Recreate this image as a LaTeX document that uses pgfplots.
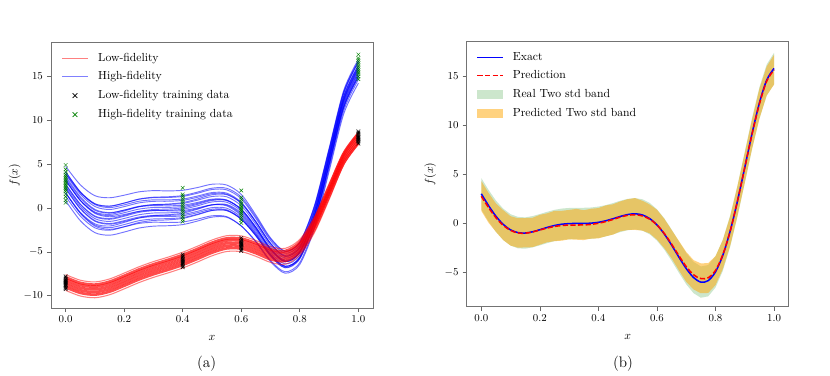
\documentclass[border=0pt]{standalone}
\usepackage{pgfplots}
\pgfplotsset{compat=1.18}
\definecolor{mplgreen}{RGB}{0,128,0}
\definecolor{mplorange}{RGB}{255,165,0}
\definecolor{mplblue}{RGB}{0,0,255}
\definecolor{mplred}{RGB}{255,0,0}
\definecolor{legblue}{RGB}{2,2,254}
\definecolor{legred}{RGB}{254,2,2}

% ensemble curves: high-fidelity h1..h20, low-fidelity l0..l6
\pgfplotstableread{
x     h1    h2    h3    h4    h5    h6    h7    h8    h9    h10   h11   h12   h13   h14   h15   h16   h17   h18   h19   h20   l0     l1     l2     l3     l4     l5     l6
0.00  0.83  1.73  1.33  2.23  1.73  3.23  2.73  3.63  3.13  4.13  4.13  4.75  1.73  2.28  2.48  2.68  3.18  3.43  3.88  3.94  -9.39  -9.04  -8.74  -8.44  -8.14  -7.89  -7.59
0.05  -1.44 -0.61 -0.91 -0.09 -0.49 0.86  0.46  1.29  0.89  1.81  1.86  2.65  -0.55 -0.03 0.19  0.40  0.88  1.14  1.58  1.77  -10.03 -9.68  -9.38  -9.08  -8.78  -8.53  -8.23
0.10  -2.81 -2.06 -2.26 -1.51 -1.81 -0.61 -0.91 -0.16 -0.46 0.39  0.49  1.40  -1.94 -1.44 -1.21 -0.99 -0.54 -0.26 0.17  0.47  -10.23 -9.88  -9.58  -9.28  -8.98  -8.73  -8.43
0.15  -3.10 -2.43 -2.53 -1.85 -2.05 -1.00 -1.20 -0.53 -0.73 0.05  0.20  1.17  -2.24 -1.77 -1.53 -1.29 -0.87 -0.58 -0.17 0.22  -9.89  -9.54  -9.24  -8.94  -8.64  -8.39  -8.09
0.20  -2.74 -2.14 -2.14 -1.54 -1.64 -0.74 -0.84 -0.24 -0.34 0.36  0.56  1.46  -1.89 -1.44 -1.19 -0.94 -0.54 -0.24 0.16  0.56  -9.22  -8.87  -8.57  -8.27  -7.97  -7.72  -7.42
0.25  -2.29 -1.76 -1.66 -1.14 -1.14 -0.39 -0.39 0.14  0.14  0.77  1.02  1.84  -1.45 -1.03 -0.77 -0.50 -0.13 0.19  0.58  0.99  -8.51  -8.16  -7.86  -7.56  -7.26  -7.01  -6.71
0.30  -2.07 -1.62 -1.42 -0.97 -0.87 -0.27 -0.17 0.28  0.38  0.93  1.23  1.98  -1.25 -0.85 -0.57 -0.30 0.06  0.38  0.76  1.18  -7.91  -7.56  -7.26  -6.96  -6.66  -6.41  -6.11
0.35  -2.02 -1.65 -1.35 -0.97 -0.77 -0.32 -0.12 0.25  0.45  0.93  1.28  1.95  -1.21 -0.84 -0.55 -0.26 0.07  0.41  0.77  1.20  -7.40  -7.05  -6.75  -6.45  -6.15  -5.90  -5.60
0.40  -1.89 -1.59 -1.19 -0.89 -0.59 -0.29 0.02  0.32  0.62  1.02  1.42  2.02  -1.09 -0.74 -0.44 -0.14 0.17  0.52  0.87  1.32  -6.84  -6.49  -6.19  -5.89  -5.59  -5.34  -5.04
0.45  -1.49 -1.27 -0.77 -0.54 -0.14 0.01  0.41  0.63  1.03  1.36  1.81  2.33  -0.71 -0.38 -0.07 0.25  0.52  0.89  1.22  1.68  -6.16  -5.81  -5.51  -5.21  -4.91  -4.66  -4.36
0.50  -1.04 -0.89 -0.29 -0.14 0.36  0.36  0.86  1.01  1.51  1.76  2.26  2.71  -0.27 0.04  0.36  0.69  0.94  1.31  1.64  2.11  -5.45  -5.10  -4.80  -4.50  -4.20  -3.95  -3.65
0.55  -1.05 -0.98 -0.28 -0.20 0.40  0.25  0.85  0.92  1.52  1.70  2.25  2.62  -0.29 -0.02 0.33  0.66  0.89  1.28  1.59  2.07  -4.96  -4.61  -4.31  -4.01  -3.71  -3.46  -3.16
0.60  -2.05 -2.05 -1.25 -1.25 -0.55 -0.85 -0.15 -0.15 0.55  0.65  1.25  1.55  -1.30 -1.05 -0.70 -0.35 -0.15 0.25  0.55  1.05  -4.98  -4.63  -4.33  -4.03  -3.73  -3.48  -3.18
0.65  -3.80 -3.87 -3.10 -3.17 -2.49 -2.87 -2.19 -2.25 -1.57 -1.55 -1.00 -0.81 -3.18 -2.99 -2.68 -2.37 -2.22 -1.87 -1.63 -1.19 -5.51  -5.16  -4.86  -4.56  -4.26  -4.01  -3.71
0.70  -5.99 -6.11 -5.36 -5.47 -4.79 -5.24 -4.57 -4.68 -4.01 -4.04 -3.52 -3.41 -5.45 -5.30 -5.02 -4.74 -4.63 -4.31 -4.10 -3.71 -6.20  -5.85  -5.55  -5.25  -4.95  -4.70  -4.40
0.75  -7.27 -7.43 -6.66 -6.82 -6.12 -6.64 -5.94 -6.10 -5.40 -5.49 -4.96 -4.91 -6.78 -6.65 -6.38 -6.11 -6.02 -5.72 -5.53 -5.16 -6.40  -6.05  -5.75  -5.45  -5.15  -4.90  -4.60
0.80  -6.21 -6.42 -5.58 -5.79 -5.02 -5.65 -4.88 -5.09 -4.32 -4.46 -3.90 -3.90 -5.72 -5.62 -5.34 -5.06 -4.99 -4.67 -4.50 -4.11 -5.38  -5.03  -4.73  -4.43  -4.13  -3.88  -3.58
0.85  -2.04 -2.30 -1.39 -1.66 -0.82 -1.55 -0.71 -0.97 -0.13 -0.33 0.27  0.22  -1.56 -1.47 -1.19 -0.90 -0.84 -0.52 -0.35 0.05  -2.80  -2.45  -2.15  -1.85  -1.55  -1.30  -1.00
0.90  4.49  4.17  5.15  4.84  5.75  4.91  5.82  5.50  6.41  6.17  6.80  6.69  4.96  5.03  5.33  5.63  5.66  6.00  6.15  6.55  0.96   1.31   1.61   1.91   2.21   2.46   2.76
0.95  11.10 10.73 11.78 11.41 12.39 11.45 12.43 12.06 13.04 12.74 13.41 13.25 11.56 11.62 11.92 12.23 12.25 12.59 12.74 13.15 4.95   5.10   5.40   5.70   6.00   6.25   6.35
1.00  14.64 14.22 15.34 14.92 15.97 14.92 15.97 15.55 16.60 16.25 16.95 16.74 15.10 15.13 15.45 15.76 15.76 16.11 16.25 16.67 7.32   7.37   7.67   7.97   8.27   8.52   8.62
}\ens

\pgfplotstableread{
x y
0 -9.25
0 -9.10
0 -8.95
0 -8.80
0 -8.70
0 -8.60
0 -8.50
0 -8.40
0 -8.30
0 -8.20
0 -8.10
0 -7.95
0 -7.80
0.4 -6.75
0.4 -6.60
0.4 -6.45
0.4 -6.30
0.4 -6.20
0.4 -6.10
0.4 -6.00
0.4 -5.90
0.4 -5.80
0.4 -5.65
0.4 -5.50
0.4 -5.30
0.6 -4.90
0.6 -4.75
0.6 -4.60
0.6 -4.45
0.6 -4.30
0.6 -4.20
0.6 -4.10
0.6 -4.00
0.6 -3.90
0.6 -3.75
0.6 -3.60
0.6 -3.40
1 7.35
1 7.50
1 7.65
1 7.75
1 7.85
1 7.95
1 8.05
1 8.15
1 8.30
1 8.45
1 8.60
1 8.75
}\lotrain

\pgfplotstableread{
x y
0 0.60
0 0.90
0 1.30
0 1.60
0 1.90
0 2.10
0 2.30
0 2.50
0 2.70
0 2.85
0 3.00
0 3.20
0 3.40
0 3.60
0 3.80
0 4.10
0 4.40
0 4.90
0.4 -1.55
0.4 -1.30
0.4 -1.00
0.4 -0.75
0.4 -0.50
0.4 -0.30
0.4 -0.10
0.4 0.10
0.4 0.30
0.4 0.50
0.4 0.70
0.4 0.90
0.4 1.10
0.4 1.35
0.4 1.55
0.4 2.30
0.6 -1.70
0.6 -1.40
0.6 -1.10
0.6 -0.85
0.6 -0.60
0.6 -0.40
0.6 -0.20
0.6 0.00
0.6 0.20
0.6 0.45
0.6 0.70
0.6 0.95
0.6 1.20
0.6 2.00
1 14.70
1 15.00
1 15.30
1 15.50
1 15.70
1 15.90
1 16.10
1 16.30
1 16.50
1 16.70
1 16.90
1 17.10
1 17.50
}\hitrain

% exact function and prediction
\pgfplotstableread{
x      f       p
0.000  3.027   2.78
0.025  1.813   1.61
0.050  0.738   0.59
0.075  -0.100  -0.20
0.100  -0.657  -0.71
0.125  -0.935  -0.97
0.150  -0.978  -1.00
0.175  -0.854  -0.87
0.200  -0.640  -0.67
0.225  -0.407  -0.47
0.250  -0.210  -0.31
0.275  -0.079  -0.21
0.300  -0.016  -0.17
0.325  0.000   -0.16
0.350  0.002   -0.15
0.375  0.030   -0.10
0.400  0.115   0.02
0.425  0.270   0.19
0.450  0.483   0.41
0.475  0.717   0.65
0.500  0.909   0.83
0.525  0.986   0.89
0.550  0.871   0.77
0.575  0.503   0.44
0.600  -0.150  -0.15
0.625  -1.074  -1.02
0.650  -2.209  -2.11
0.675  -3.439  -3.29
0.700  -4.606  -4.41
0.725  -5.522  -5.24
0.750  -5.993  -5.63
0.775  -5.845  -5.55
0.800  -4.949  -4.80
0.825  -3.254  -3.20
0.850  -0.799  -0.80
0.875  2.272   2.27
0.900  5.712   5.71
0.925  9.187   9.14
0.950  12.303  12.20
0.975  14.648  14.53
1.000  15.830  15.68
}\pred

\pgfplotsset{
  mplstyle/.style={
    scale only axis,
    width=9.66cm, height=7.96cm,
    xmin=-0.05, xmax=1.05,
    xtick={0,0.2,0.4,0.6,0.8,1.0},
    xticklabel style={/pgf/number format/fixed,
      /pgf/number format/fixed zerofill,
      /pgf/number format/precision=1},
    axis line style={black!55, line width=0.8pt},
    tick style={black!60, line width=0.6pt},
    major tick length=0.12cm,
    tick align=outside,
    xtick pos=left, ytick pos=left,
    ticklabel style={font=\fontsize{9}{10}\selectfont},
    label style={font=\fontsize{10}{12}\selectfont},
    xlabel={$x$}, ylabel={$f(x)$},
    xlabel style={at={(axis description cs:0.5,-0.113)}, anchor=center},
    ylabel style={at={(axis description cs:-0.113,0.5)}, anchor=center},
  },
}
\tikzset{legtext/.style={anchor=west, font=\fontsize{10}{12}\selectfont,
  inner sep=0pt, text height=1.6ex, text depth=0.45ex}}

\begin{document}
\begin{tikzpicture}
\path[use as bounding box] (0,0) rectangle (24.9cm,11.25cm);

%%% (a) ensembles of low- and high-fidelity functions
\begin{axis}[mplstyle, name=pa, at={(1.53cm,2.01cm)}, anchor=south west,
  ymin=-11.4, ymax=18.85, ytick={-10,-5,0,5,10,15}]
\pgfplotsinvokeforeach{1,...,20}{
  \addplot[mplblue, opacity=0.55, line width=0.8pt, smooth] table[x=x, y=h#1]{\ens};
}
\pgfplotsinvokeforeach{1,...,5}{
  \addplot[mplred, opacity=0.7, line width=2.2pt, smooth] table[x=x, y=l#1]{\ens};
}
\addplot[mplred, opacity=0.5, line width=0.9pt, smooth] table[x=x, y=l0]{\ens};
\addplot[mplred, opacity=0.5, line width=0.9pt, smooth] table[x=x, y=l6]{\ens};
\addplot[only marks, mark=x, mark size=2.2pt, black] table[x=x, y=y]{\lotrain};
\addplot[only marks, mark=x, mark size=2.2pt, mplgreen] table[x=x, y=y]{\hitrain};
\end{axis}

% legend (a)
\fill[legred, fill opacity=0.5] ([shift={(0.33cm,-0.498cm)}]pa.north west) rectangle ++(0.78cm,0.036cm);
\fill[legblue, fill opacity=0.5] ([shift={(0.33cm,-1.038cm)}]pa.north west) rectangle ++(0.78cm,0.036cm);
\draw[black, line width=0.6pt] ([shift={(0.65cm,-1.66cm)}]pa.north west) -- ++(0.14cm,0.14cm) ++(0,-0.14cm) -- ++(-0.14cm,0.14cm);
\draw[mplgreen, line width=0.6pt] ([shift={(0.65cm,-2.23cm)}]pa.north west) -- ++(0.14cm,0.14cm) ++(0,-0.14cm) -- ++(-0.14cm,0.14cm);
\node[legtext] at ([shift={(1.41cm,-0.48cm)}]pa.north west) {Low-fidelity};
\node[legtext] at ([shift={(1.41cm,-1.02cm)}]pa.north west) {High-fidelity};
\node[legtext] at ([shift={(1.41cm,-1.59cm)}]pa.north west) {Low-fidelity training data};
\node[legtext] at ([shift={(1.41cm,-2.16cm)}]pa.north west) {High-fidelity training data};

%%% (b) prediction against the exact function
\begin{axis}[mplstyle, name=pb, at={(14.0cm,2.05cm)}, anchor=south west,
  ymin=-8.5, ymax=18.6, ytick={-5,0,5,10,15}]
% real two-std band: upper edge left to right, lower edge back
\addplot[fill=mplgreen, fill opacity=0.2, draw=none] coordinates {
(0,4.63) (0.025,3.41) (0.05,2.34) (0.075,1.50) (0.1,0.94) (0.125,0.67) (0.15,0.62)
(0.175,0.75) (0.2,0.96) (0.225,1.19) (0.25,1.39) (0.275,1.52) (0.3,1.58) (0.325,1.60)
(0.35,1.60) (0.375,1.63) (0.4,1.72) (0.425,1.87) (0.45,2.08) (0.475,2.32) (0.5,2.51)
(0.525,2.59) (0.55,2.47) (0.575,2.10) (0.6,1.45) (0.625,0.53) (0.65,-0.61) (0.675,-1.84)
(0.7,-3.01) (0.725,-3.92) (0.75,-4.39) (0.775,-4.25) (0.8,-3.35) (0.825,-1.65) (0.85,0.80)
(0.875,3.87) (0.9,7.31) (0.925,10.79) (0.95,13.90) (0.975,16.25) (1,17.43)
(1,14.23) (0.975,13.05) (0.95,10.70) (0.925,7.59) (0.9,4.11) (0.875,0.67) (0.85,-2.40)
(0.825,-4.85) (0.8,-6.55) (0.775,-7.45) (0.75,-7.59) (0.725,-7.12) (0.7,-6.21) (0.675,-5.04)
(0.65,-3.81) (0.625,-2.67) (0.6,-1.75) (0.575,-1.10) (0.55,-0.73) (0.525,-0.61) (0.5,-0.69)
(0.475,-0.88) (0.45,-1.12) (0.425,-1.33) (0.4,-1.49) (0.375,-1.57) (0.35,-1.60) (0.325,-1.60)
(0.3,-1.62) (0.275,-1.68) (0.25,-1.81) (0.225,-2.01) (0.2,-2.24) (0.175,-2.45) (0.15,-2.58)
(0.125,-2.54) (0.1,-2.26) (0.075,-1.70) (0.05,-0.86) (0.025,0.21) (0,1.43)
} -- cycle;
% predicted two-std band
\addplot[fill=mplorange, fill opacity=0.5, draw=none] coordinates {
(0,4.33) (0.025,3.11) (0.05,2.04) (0.075,1.35) (0.1,0.74) (0.125,0.53) (0.15,0.55)
(0.175,0.58) (0.2,0.88) (0.225,1.03) (0.25,1.29) (0.275,1.29) (0.3,1.38) (0.325,1.49)
(0.35,1.35) (0.375,1.50) (0.4,1.57) (0.425,1.84) (0.45,1.96) (0.475,2.25) (0.5,2.48)
(0.525,2.59) (0.55,2.32) (0.575,1.94) (0.6,1.40) (0.625,0.48) (0.65,-0.66) (0.675,-1.79)
(0.7,-2.91) (0.725,-3.74) (0.75,-4.08) (0.775,-4.05) (0.8,-3.35) (0.825,-1.70) (0.85,0.70)
(0.875,3.82) (0.9,7.21) (0.925,10.64) (0.95,13.75) (0.975,16.03) (1,17.23)
(1,14.18) (0.975,13.08) (0.95,10.70) (0.925,7.64) (0.9,4.16) (0.875,0.77) (0.85,-2.30)
(0.825,-4.65) (0.8,-6.30) (0.775,-7.10) (0.75,-7.13) (0.725,-6.74) (0.7,-5.96) (0.675,-4.79)
(0.65,-3.56) (0.625,-2.52) (0.6,-1.65) (0.575,-1.01) (0.55,-0.73) (0.525,-0.66) (0.5,-0.67)
(0.475,-0.80) (0.45,-1.14) (0.425,-1.31) (0.4,-1.53) (0.375,-1.55) (0.35,-1.70) (0.325,-1.66)
(0.3,-1.62) (0.275,-1.76) (0.25,-1.81) (0.225,-1.92) (0.2,-2.17) (0.175,-2.42) (0.15,-2.45)
(0.125,-2.47) (0.1,-2.26) (0.075,-1.70) (0.05,-0.86) (0.025,0.06) (0,1.28)
} -- cycle;
\addplot[mplblue, line width=1.3pt, smooth] table[x=x, y=f]{\pred};
\addplot[mplred, line width=1.3pt, dash pattern=on 4.5pt off 2pt, smooth] table[x=x, y=p]{\pred};
\end{axis}

% legend (b)
\draw[legblue, line width=1.3pt] ([shift={(0.32cm,-0.48cm)}]pb.north west) -- ++(0.78cm,0);
\draw[legred, line width=1.3pt, dash pattern=on 4.5pt off 2pt] ([shift={(0.32cm,-1.02cm)}]pb.north west) -- ++(0.78cm,0);
\fill[mplgreen, fill opacity=0.2] ([shift={(0.32cm,-1.73cm)}]pb.north west) rectangle ++(0.78cm,0.28cm);
\fill[mplorange, fill opacity=0.5] ([shift={(0.32cm,-2.30cm)}]pb.north west) rectangle ++(0.78cm,0.28cm);
\node[legtext] at ([shift={(1.38cm,-0.48cm)}]pb.north west) {Exact};
\node[legtext] at ([shift={(1.38cm,-1.02cm)}]pb.north west) {Prediction};
\node[legtext] at ([shift={(1.38cm,-1.59cm)}]pb.north west) {Real Two std band};
\node[legtext] at ([shift={(1.38cm,-2.16cm)}]pb.north west) {Predicted Two std band};

\node[font=\fontsize{13}{15}\selectfont] at (6.2cm,0.33cm) {(a)};
\node[font=\fontsize{13}{15}\selectfont] at (18.69cm,0.33cm) {(b)};
\end{tikzpicture}
\end{document}
